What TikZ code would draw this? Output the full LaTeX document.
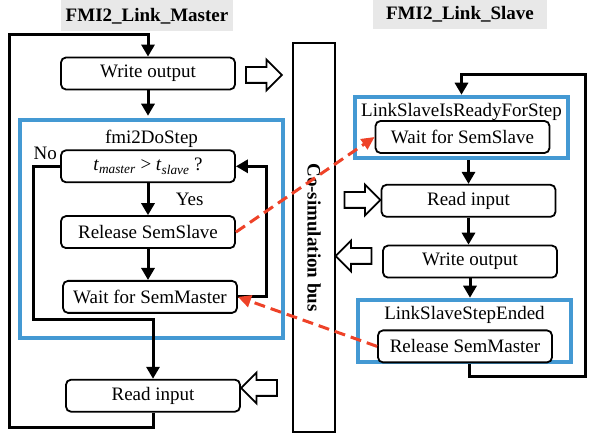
\documentclass[tikz,border=0pt]{standalone}
\usepackage{fontspec}
\setmainfont{Liberation Serif}
\usetikzlibrary{arrows.meta, positioning, shapes.arrows, calc}
\definecolor{stepblue}{RGB}{68,153,211}
\definecolor{syncred}{RGB}{238,66,40}
\begin{document}
\begin{tikzpicture}[
    x=1pt, y=1pt,
    font=\fontsize{19}{21}\selectfont,
    title/.style={fill=gray!18, font=\fontsize{19}{21}\selectfont\bfseries, minimum height=31pt, inner sep=2pt},
    block/.style={rectangle, draw, line width=1.8pt, rounded corners=5pt, fill=white, minimum width=174pt, minimum height=32pt, inner sep=2pt},
    group/.style={rectangle, draw=stepblue, line width=4.5pt},
    bus/.style={rectangle, draw, line width=1.8pt, rotate=-90, font=\fontsize{19}{21}\selectfont\bfseries},
    hollow/.style={single arrow, draw, line width=1.8pt, fill=white, inner xsep=0pt, inner ysep=7pt, minimum width=0pt, minimum height=36pt, single arrow head extend=7.5pt},
    arrow/.style={-{Triangle[length=12pt,width=13pt]}, line width=3pt},
    sync/.style={-{Triangle[length=13pt,width=12pt]}, line width=3pt, draw=syncred, dash pattern=on 11pt off 6pt}
]
\useasboundingbox (0,0) rectangle (591,441);

\node[title, minimum width=172pt] (mtitle) at (147,425) {FMI2\_Link\_Master};
\node[title, minimum width=174pt, minimum height=29pt] (stitle) at (460,426.5) {FMI2\_Link\_Slave};

\node[block] (wout) at (148,367.5) {Write output};
\node[group, minimum width=263pt, minimum height=218pt] (dostep) at (151.5,212) {};
\node[below=12pt of dostep.north, inner sep=0pt] (dosteplbl) {fmi2DoStep};
\node[block, below=59pt of wout] (decision) {\textit{t}\textsubscript{\textit{master}} > \textit{t}\textsubscript{\textit{slave}} ?};
\node[anchor=north east, inner sep=0pt] (no) at ([xshift=-3pt,yshift=3pt]decision.north west) {No};
\node[block, below=32pt of decision] (relslave) {Release SemSlave};
\node[block, below=31pt of relslave, xshift=2pt] (waitmaster) {Wait for SemMaster};
\node[block, below=65pt of waitmaster, xshift=3pt] (readin) {Read input};
\node[hollow] (moutarrow) at (260,366) {};
\node[hollow, shape border rotate=180] (minarrow) at (263,53) {};

\node[bus, minimum width=389pt, minimum height=42pt] (bus) at (314,203.5) {Co-simulation bus};

\node[group, minimum width=213pt, minimum height=61pt] (ready) at (461.5,313.5) {};
\node[block] (waitslave) at (462.5,304) {Wait for SemSlave};
\node[below=8pt of ready.north, inner sep=0pt] (readylbl) {LinkSlaveIsReadyForStep};
\node[block, below=30pt of waitslave, xshift=6pt] (sreadin) {Read input};
\node[block, below=27pt of sreadin, xshift=1.5pt] (swout) {Write output};
\node[group, minimum width=213pt, minimum height=62pt] (ended) at (464.5,110) {};
\node[block, below=51pt of swout, xshift=-5pt] (relmaster) {Release SemMaster};
\node[below=8pt of ended.north, inner sep=0pt] (endedlbl) {LinkSlaveStepEnded};
\node[hollow] (sinarrow) at (358.5,241) {};
\node[hollow, shape border rotate=180] (soutarrow) at (357.5,185) {};

\coordinate (mloopbl) at (9,13);
\coordinate (mlooptl) at (9,406);
\coordinate (nocorner) at (33,121);
\coordinate (sloopbr) at (585,64);
\coordinate (slooptr) at (585,366);

\draw[arrow] (wout.south) -- ([yshift=2pt]wout.south |- dostep.north);
\draw[arrow] (decision) -- node[right=23pt] (yes) {Yes} (relslave);
\draw[arrow] (relslave) -- (relslave |- waitmaster.north);
\draw[arrow] (waitmaster.east) -- ++(29,0) |- (decision.east);
\draw[arrow] (decision.west) -| (nocorner) -| (readin.north);
\draw[arrow] (readin.south) |- (mloopbl) -- (mlooptl) -| (wout.north);

\draw[arrow] (sreadin.north |- ready.south) -- (sreadin.north);
\draw[arrow] (sreadin) -- (sreadin |- swout.north);
\draw[arrow] (swout.south) -- (swout.south |- ended.north);
\draw[arrow] ([xshift=5pt]ended.south) |- (sloopbr) -- (slooptr) -| (ready.north);

\draw[sync] (relslave.east) -- (waitslave.west);
\draw[sync] (relmaster.west) -- (waitmaster.east);

\end{tikzpicture}
\end{document}
